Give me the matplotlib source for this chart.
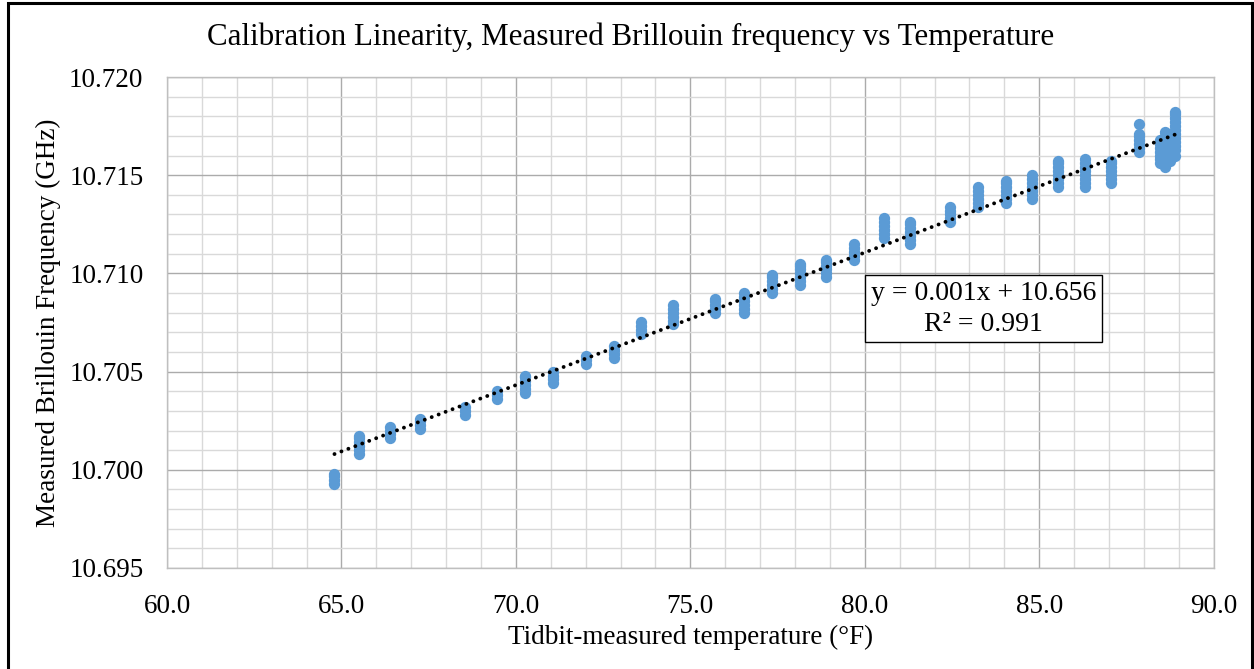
#!/usr/bin/env python3

"""brillouin frequency vs temperature calibration scatter"""

import numpy as np
import matplotlib
matplotlib.use("Agg")
import matplotlib.pyplot as plt
from matplotlib.ticker import MultipleLocator, FormatStrFormatter
from matplotlib.patches import Rectangle

# temperature of each reading group (deg F)
temp_f = [64.8, 65.5, 66.4, 67.25, 68.55, 69.45, 70.25, 71.05, 72.0, 72.8,
          73.6, 74.5, 75.7, 76.55, 77.35, 78.15, 78.9, 79.7, 80.55, 81.3,
          82.45, 83.25, 84.05, 84.8, 85.55, 86.3, 87.05, 87.85,
          88.45, 88.6, 88.75, 88.9]

# measured Brillouin frequency readings at each temperature (GHz)
freq_ghz = [
    [10.6993, 10.6995, 10.6997, 10.6998],
    [10.7008, 10.7010, 10.7012, 10.7014, 10.7016, 10.7017],
    [10.7016, 10.7018, 10.7020, 10.7022],
    [10.7021, 10.7023, 10.7025, 10.7026],
    [10.7028, 10.7030, 10.7032],
    [10.7036, 10.7038, 10.7040],
    [10.7039, 10.7041, 10.7043, 10.7045, 10.7047, 10.7048],
    [10.7044, 10.7046, 10.7048, 10.7050],
    [10.7054, 10.7056, 10.7058],
    [10.7057, 10.7059, 10.7061, 10.7063],
    [10.7069, 10.7071, 10.7073, 10.7075],
    [10.7074, 10.7076, 10.7078, 10.7080, 10.7082, 10.7084],
    [10.7080, 10.7082, 10.7084, 10.7086, 10.7087],
    [10.7080, 10.7082, 10.7084, 10.7086, 10.7088, 10.7090],
    [10.7090, 10.7092, 10.7094, 10.7096, 10.7098, 10.7099],
    [10.7094, 10.7096, 10.7098, 10.7100, 10.7102, 10.7104, 10.7105],
    [10.7098, 10.7100, 10.7102, 10.7104, 10.7106, 10.7107],
    [10.7107, 10.7109, 10.7111, 10.7113, 10.7115],
    [10.7118, 10.7120, 10.7122, 10.7124, 10.7126, 10.7128],
    [10.7115, 10.7117, 10.7119, 10.7121, 10.7123, 10.7125, 10.7126],
    [10.7126, 10.7128, 10.7130, 10.7132, 10.7134],
    [10.7134, 10.7136, 10.7138, 10.7140, 10.7142, 10.7144],
    [10.7136, 10.7138, 10.7140, 10.7142, 10.7144, 10.7146, 10.7147],
    [10.7138, 10.7140, 10.7142, 10.7144, 10.7146, 10.7148, 10.7150],
    [10.7144, 10.7146, 10.7148, 10.7150, 10.7152, 10.7154, 10.7156, 10.7157],
    [10.7144, 10.7146, 10.7148, 10.7150, 10.7152, 10.7154, 10.7156, 10.7158],
    [10.7146, 10.7148, 10.7150, 10.7152, 10.7154, 10.7156, 10.7157],
    [10.7162, 10.7164, 10.7166, 10.7168, 10.7170, 10.7171, 10.7176],
    [10.7156, 10.7158, 10.7160, 10.7162, 10.7164, 10.7166, 10.7168],
    [10.7154, 10.7156, 10.7158, 10.7160, 10.7162, 10.7164, 10.7166,
     10.7168, 10.7170, 10.7172],
    [10.7157, 10.7159, 10.7161, 10.7163, 10.7165, 10.7167, 10.7169, 10.7171],
    [10.7160, 10.7163, 10.7165, 10.7167, 10.7169, 10.7171, 10.7173,
     10.7175, 10.7177, 10.7179, 10.7181, 10.7182],
]

trend_label = "y = 0.001x + 10.656\nR\u00b2 = 0.991"

plt.rcParams["font.family"] = ["Liberation Serif", "DejaVu Serif"]

x = np.concatenate([[t] * len(f) for t, f in zip(temp_f, freq_ghz)])
y = np.concatenate(freq_ghz)

fig = plt.figure(figsize=(12.54, 6.69), dpi=100)
ax = fig.add_axes([0.1332, 0.1510, 0.8346, 0.7339])

ax.scatter(x, y, s=66, color="#5B9BD5", linewidths=0, zorder=3)

# linear trendline
slope, icept = np.polyfit(x, y, 1)
xl = np.array([x.min(), x.max()])
ax.plot(xl, slope * xl + icept, color="black", lw=2.8,
        linestyle=(0, (0.01, 1.9)), dash_capstyle="round", zorder=4)

ax.text(83.41, 10.70820, trend_label, fontsize=20, ha="center", va="center",
        multialignment="center", linespacing=1.3, zorder=5,
        bbox=dict(boxstyle="square,pad=0.2", fc="white", ec="black", lw=1))

ax.set_xlim(60, 90)
ax.set_ylim(10.695, 10.720)
ax.xaxis.set_major_locator(MultipleLocator(5))
ax.xaxis.set_minor_locator(MultipleLocator(1))
ax.yaxis.set_major_locator(MultipleLocator(0.005))
ax.yaxis.set_minor_locator(MultipleLocator(0.001))
ax.xaxis.set_major_formatter(FormatStrFormatter("%.1f"))
ax.yaxis.set_major_formatter(FormatStrFormatter("%.3f"))
ax.tick_params(which="both", length=0, labelsize=19.5)
ax.tick_params(axis="x", pad=19)
ax.tick_params(axis="y", pad=17)
ax.grid(which="major", color="#ABABAB", lw=1)
ax.grid(which="minor", color="#D9D9D9", lw=1)
ax.set_axisbelow(True)
for sp in ax.spines.values():
    sp.set_color("#BFBFBF")
    sp.set_linewidth(1)

fig.text(0.503, 1 - 37 / 669,
         "Calibration Linearity, Measured Brillouin frequency vs Temperature",
         fontsize=22.3, ha="center", va="center")
ax.set_xlabel("Tidbit-measured temperature (\u00b0F)", fontsize=19.5, labelpad=4)
ax.set_ylabel("Measured Brillouin Frequency (GHz)", fontsize=19.5, labelpad=6)

# chart border
fig.patches.append(Rectangle((8 / 1254, -0.05), (1252 - 8) / 1254, 1.05 - 3 / 669,
                             transform=fig.transFigure, fill=False,
                             ec="black", lw=2.2))

fig.savefig("out.png", dpi=100)
